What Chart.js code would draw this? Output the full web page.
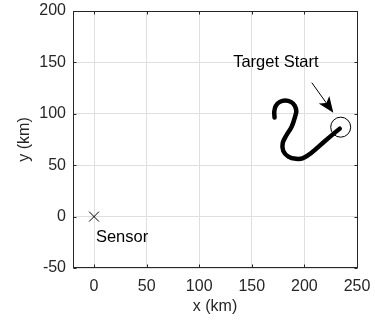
<!DOCTYPE html>
<html>
<head>
<meta charset="utf-8">
<script src="https://cdn.jsdelivr.net/npm/chart.js@4"></script>
<style>
  html, body { margin: 0; padding: 0; background: #fff; }
  canvas { display: block; }
</style>
</head>
<body>
<canvas id="chart" width="375" height="323"></canvas>
<script>
// axis ticks
const xTicks = [0, 50, 100, 150, 200, 250];
const yTicks = [-50, 0, 50, 100, 150, 200];

// target track (km), from the start circle along the S curve
const trackX = [233.6, 219.6, 207.3, 198.7, 192.0, 184.7, 179.9, 179.4, 183.2, 187.9, 191.6, 192.3, 190.9, 187.1, 181.8, 176.6, 172.8, 171.4, 171.6];
const trackY = [85.6, 73.6, 62.6, 56.9, 56.2, 58.4, 63.8, 71.7, 79.6, 87.5, 99.0, 102.6, 107.8, 111.6, 113.0, 111.6, 107.8, 102.6, 96.4];

const targetStart = [234.5, 87];
const sensorPos = [0, 0];

// annotation
const arrowTail = [207, 130.3];
const arrowTip = [227.5, 101];
const labelText = ['Target Start', 'Sensor'];
const labelX = [132.3, 1.8];
const labelY = [149.7, -20.2];

const axisColor = '#262626';
const gridColor = '#dfdfdf';
const fontFamily = '"Liberation Sans", Arial, Helvetica, sans-serif';

Chart.defaults.font.family = fontFamily;
Chart.defaults.font.size = 16;
Chart.defaults.color = axisColor;

// box, inside ticks, arrow and text labels
const overlay = {
    id: 'overlay',
    afterDatasetsDraw(chart) {
        const { ctx, chartArea: a, scales: { x, y } } = chart;
        const L = Math.round(a.left) + 0.5, R = Math.round(a.right) + 0.5;
        const T = Math.round(a.top) + 0.5, B = Math.round(a.bottom) - 0.5;
        ctx.save();
        ctx.strokeStyle = axisColor;
        ctx.lineWidth = 1;
        ctx.strokeRect(L, T, R - L, B - T);
        ctx.beginPath();
        xTicks.forEach(v => {
            const p = Math.round(x.getPixelForValue(v)) + 0.5;
            ctx.moveTo(p, B); ctx.lineTo(p, B - 3);
            ctx.moveTo(p, T); ctx.lineTo(p, T + 3);
        });
        yTicks.forEach(v => {
            const p = Math.round(y.getPixelForValue(v)) + 0.5;
            ctx.moveTo(L, p); ctx.lineTo(L + 3, p);
            ctx.moveTo(R, p); ctx.lineTo(R - 3, p);
        });
        ctx.stroke();

        // arrow
        const tx = x.getPixelForValue(arrowTail[0]), ty = y.getPixelForValue(arrowTail[1]);
        const hx = x.getPixelForValue(arrowTip[0]), hy = y.getPixelForValue(arrowTip[1]);
        const ang = Math.atan2(hy - ty, hx - tx);
        const len = 16, half = 6.5, back = 4;
        const ux = Math.cos(ang), uy = Math.sin(ang);
        const nx = -uy, ny = ux;
        ctx.strokeStyle = '#000';
        ctx.fillStyle = '#000';
        ctx.beginPath();
        ctx.moveTo(tx, ty);
        ctx.lineTo(hx - ux * (len - back), hy - uy * (len - back));
        ctx.stroke();
        ctx.beginPath();
        ctx.moveTo(hx, hy);
        ctx.lineTo(hx - ux * len + nx * half, hy - uy * len + ny * half);
        ctx.lineTo(hx - ux * (len - back), hy - uy * (len - back));
        ctx.lineTo(hx - ux * len - nx * half, hy - uy * len - ny * half);
        ctx.closePath();
        ctx.fill();

        // text labels
        ctx.fillStyle = '#000';
        ctx.font = '16.5px ' + fontFamily;
        ctx.textAlign = 'left';
        ctx.textBaseline = 'middle';
        labelText.forEach((t, i) => {
            ctx.fillText(t, x.getPixelForValue(labelX[i]), y.getPixelForValue(labelY[i]));
        });
        ctx.restore();
    }
};

const ctx = document.getElementById('chart').getContext('2d');
new Chart(ctx, {
    type: 'scatter',
    data: {
        datasets: [
            {
                label: 'Target',
                data: trackX.map((v, i) => ({ x: v, y: trackY[i] })),
                showLine: true,
                borderColor: '#000',
                borderWidth: 4.5,
                borderCapStyle: 'round',
                borderJoinStyle: 'round',
                tension: 0.4,
                pointRadius: 0,
            },
            {
                label: 'Target Start',
                data: [{ x: targetStart[0], y: targetStart[1] }],
                pointStyle: 'circle',
                pointRadius: 10,
                pointBorderWidth: 1,
                pointBorderColor: '#000',
                pointBackgroundColor: 'rgba(0,0,0,0)',
            },
            {
                label: 'Sensor',
                data: [{ x: sensorPos[0], y: sensorPos[1] }],
                pointStyle: 'crossRot',
                pointRadius: 7,
                pointBorderWidth: 1,
                pointBorderColor: '#000',
            },
        ],
    },
    options: {
        responsive: false,
        animation: false,
        layout: { padding: { top: 5, right: 18, left: 0, bottom: 0 } },
        plugins: { legend: { display: false }, tooltip: { enabled: false } },
        scales: {
            x: {
                type: 'linear',
                min: -20,
                max: 250,
                afterBuildTicks: s => { s.ticks = xTicks.map(v => ({ value: v })); },
                afterFit: s => { s.height = 55; s.paddingLeft = 0; s.paddingRight = 0; },
                grid: { color: gridColor, drawTicks: false },
                border: { display: false },
                ticks: { padding: 9, maxRotation: 0, color: axisColor },
                title: { display: true, text: 'x (km)', color: axisColor, padding: { top: 0, bottom: 7 } },
            },
            y: {
                type: 'linear',
                min: -50,
                max: 200,
                afterBuildTicks: s => { s.ticks = yTicks.map(v => ({ value: v })); },
                afterFit: s => { s.width = 73; s.paddingTop = 0; s.paddingBottom = 0; },
                grid: { color: gridColor, drawTicks: false },
                border: { display: false },
                ticks: { padding: 7, color: axisColor },
                title: { display: true, text: 'y (km)', color: axisColor, padding: { top: 15, bottom: 0 } },
            },
        },
    },
    plugins: [overlay],
});
</script>
</body>
</html>
